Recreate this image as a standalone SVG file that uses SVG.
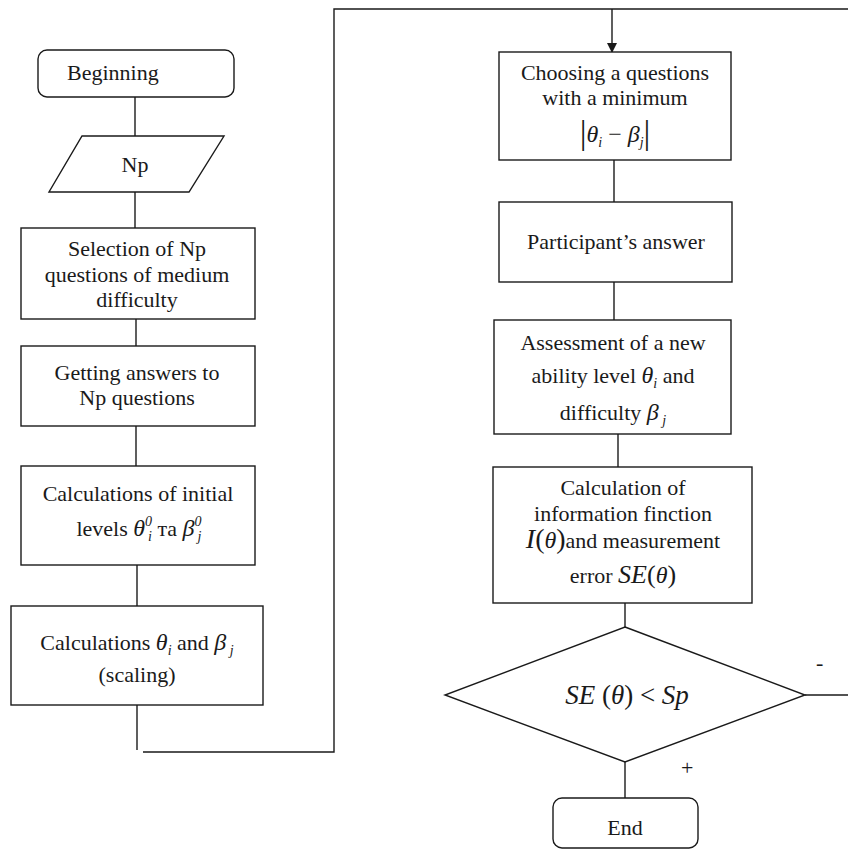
<svg xmlns="http://www.w3.org/2000/svg" width="848" height="851" viewBox="0 0 848 851">
<style>
.s{fill:#fff;stroke:#1a1a1a;stroke-width:1.4}
.c{fill:none;stroke:#1a1a1a;stroke-width:1.4}
text{font-family:"Liberation Serif","Times New Roman",serif;font-size:22px;fill:#1a1a1a}
.m{font-style:italic;font-size:24px}
.sb{font-style:italic;font-size:14px}
.sp{font-size:14px;font-style:italic}
.big{font-size:27px}
.sign{font-size:22px}
</style>
<defs>
<marker id="ah" markerWidth="10" markerHeight="10" refX="9" refY="5" orient="auto" markerUnits="userSpaceOnUse">
<path d="M0,0 L10,5 L0,10 z" fill="#1a1a1a"/>
</marker>
</defs>
<rect width="848" height="851" fill="#fff"/>
<g id="connectors">
<line class="c" x1="135" y1="97" x2="135" y2="136"/>
<line class="c" x1="135" y1="192" x2="135" y2="228"/>
<line class="c" x1="136" y1="319" x2="136" y2="346"/>
<line class="c" x1="136" y1="426" x2="136" y2="466"/>
<line class="c" x1="137" y1="565" x2="137" y2="606"/>
<line class="c" x1="137" y1="705" x2="137" y2="750"/>
<polyline class="c" points="143,752 334,752 334,9 848,9"/>
<line class="c" x1="612" y1="9" x2="612" y2="52" marker-end="url(#ah)"/>
<line class="c" x1="614" y1="160" x2="614" y2="202"/>
<line class="c" x1="614" y1="282" x2="614" y2="320"/>
<line class="c" x1="618" y1="434" x2="618" y2="467"/>
<line class="c" x1="625" y1="603" x2="625" y2="627"/>
<line class="c" x1="805" y1="695" x2="848" y2="695"/>
<line class="c" x1="625" y1="762" x2="625" y2="798"/>
<text class="sign" x="816" y="670">-</text>
<text class="sign" x="681" y="775">+</text>
</g>
<g id="beginning">
<rect class="s" x="38" y="50" width="196" height="47" rx="9"/>
<text x="67" y="80">Beginning</text>
</g>
<g id="np">
<polygon class="s" points="82,136 224,136 189,192 49,192"/>
<text x="135" y="172" text-anchor="middle">Np</text>
</g>
<g id="selection">
<rect class="s" x="21" y="228" width="234" height="91"/>
<text x="137" y="256" text-anchor="middle">Selection of Np</text>
<text x="137" y="282" text-anchor="middle">questions of medium</text>
<text x="137" y="307" text-anchor="middle">difficulty</text>
</g>
<g id="getting">
<rect class="s" x="21" y="346" width="234" height="80"/>
<text x="137" y="380" text-anchor="middle">Getting answers to</text>
<text x="137" y="405" text-anchor="middle">Np questions</text>
</g>
<g id="initial">
<rect class="s" x="21" y="466" width="234" height="99"/>
<text x="138" y="501" text-anchor="middle">Calculations of initial</text>
<text x="139" y="536" text-anchor="middle">levels  <tspan class="m">θ</tspan><tspan class="sp" dy="-10">0</tspan><tspan class="sb" dx="-4" dy="15">i</tspan><tspan dy="-5"> та  </tspan><tspan class="m">β</tspan><tspan class="sp" dy="-10">0</tspan><tspan class="sb" dx="-4" dy="15">j</tspan></text>
</g>
<g id="scaling">
<rect class="s" x="11" y="606" width="252" height="99"/>
<text x="137" y="650" text-anchor="middle">Calculations <tspan class="m">θ</tspan><tspan class="sb" dy="5">i</tspan><tspan dy="-5"> and </tspan><tspan class="m">β</tspan><tspan class="sb" dy="5"> j</tspan></text>
<text x="137" y="682" text-anchor="middle">(scaling)</text>
</g>
<g id="choosing">
<rect class="s" x="499" y="52" width="232" height="108"/>
<text x="615" y="80" text-anchor="middle">Choosing a questions</text>
<text x="615" y="105" text-anchor="middle">with a minimum</text>
<text x="615" y="142" text-anchor="middle"><tspan font-size="34" dy="2">|</tspan><tspan class="m" dy="-2">θ</tspan><tspan class="sb" dy="5">i</tspan><tspan dy="-5" font-size="24"> − </tspan><tspan class="m">β</tspan><tspan class="sb" dy="5">j</tspan><tspan font-size="34" dy="-3">|</tspan></text>
</g>
<g id="participant">
<rect class="s" x="499" y="202" width="233" height="80"/>
<text x="616" y="249" text-anchor="middle">Participant’s answer</text>
</g>
<g id="assessment">
<rect class="s" x="494" y="320" width="237" height="114"/>
<text x="613" y="350" text-anchor="middle">Assessment of a new</text>
<text x="613" y="383" text-anchor="middle">ability level  <tspan class="m">θ</tspan><tspan class="sb" dy="5">i</tspan><tspan dy="-5"> and</tspan></text>
<text x="613" y="420" text-anchor="middle">difficulty <tspan class="m">β</tspan><tspan class="sb" dy="5"> j</tspan></text>
</g>
<g id="calculation">
<rect class="s" x="493" y="467" width="259" height="136"/>
<text x="623" y="495" text-anchor="middle">Calculation of</text>
<text x="623" y="521" text-anchor="middle">information finction</text>
<text x="623" y="548" text-anchor="middle"><tspan font-size="28" font-style="italic">I</tspan><tspan font-size="28">(</tspan><tspan class="m" font-size="26">θ</tspan><tspan font-size="28">)</tspan>and measurement</text>
<text x="623" y="583" text-anchor="middle">error <tspan font-size="26" font-style="italic">SE</tspan><tspan font-size="26">(</tspan><tspan class="m">θ</tspan><tspan font-size="26">)</tspan></text>
</g>
<g id="decision">
<polygon class="s" points="625,627 805,695 625,762 445,695"/>
<text class="big" x="627" y="704" text-anchor="middle"><tspan font-style="italic">SE</tspan> (<tspan font-style="italic">θ</tspan>) &lt; <tspan font-style="italic">Sp</tspan></text>
</g>
<g id="end">
<rect class="s" x="553" y="798" width="145" height="50" rx="9"/>
<text x="625" y="835" text-anchor="middle">End</text>
</g>
</svg>
